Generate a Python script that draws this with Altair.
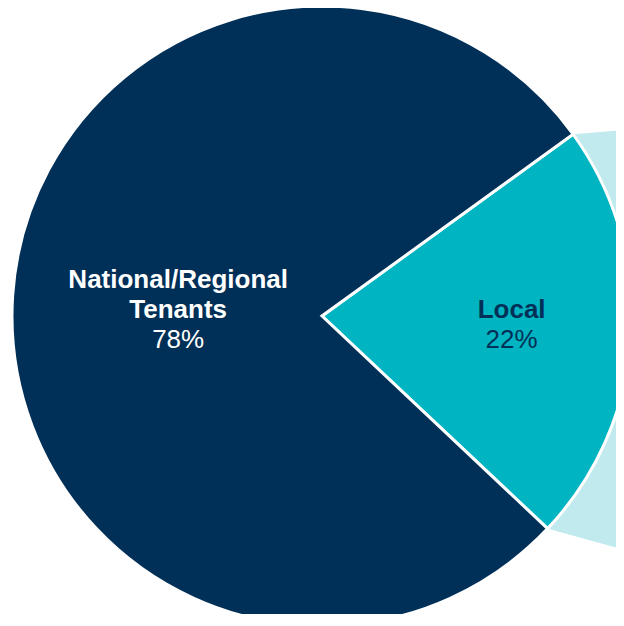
import math
import altair as alt
import pandas as pd

# ---- data ----
categories = ["Local", "National/Regional Tenants"]
shares = [22, 78]
label_names = ["Local", "National/Regional\nTenants"]
label_pcts = ["22%", "78%"]

# ---- layout / style constants ----
W, H = 608, 606
CX, CY, R = 314, 308, 310
START_DEG = 54.1  # where the first slice (Local) starts, clockwise from 12 o'clock
NAVY = "#003057"
TEAL = "#00B4C1"
LIGHT = "#C1EAEE"
FONT = "Liberation Sans"
FONT_SIZE = 26
LINE_H = 30

start = math.radians(START_DEG)
total = sum(shares)

pie_df = pd.DataFrame({
    "category": categories,
    "share": shares,
    "order": list(range(len(categories))),
})

# slice boundary angles (derived from data)
angles = [start]
for s in shares:
    angles.append(angles[-1] + 2 * math.pi * s / total)

def pt(a, r):
    return CX + r * math.sin(a), CY - r * math.cos(a)

# light connector band behind the small slice
(tx, ty) = pt(angles[0], R)
(bx, by) = pt(angles[1], R)
top_slope, bot_slope = -0.082, 0.276
far_x = W + 40
x0 = min(tx, bx) - 5
band_df = pd.DataFrame({
    "x": [x0, far_x],
    "y": [ty + top_slope * (x0 - tx), ty + top_slope * (far_x - tx)],
    "y2": [by + bot_slope * (x0 - bx), by + bot_slope * (far_x - bx)],
})

# label anchors: horizontal position from the slice mid-angle
label_r = [0.613 * R, 0.465 * R]
lab_rows = []
for i, c in enumerate(categories):
    mid = (angles[i] + angles[i + 1]) / 2
    lx = CX + label_r[i] * math.sin(mid)
    n_lines = label_names[i].count("\n") + 1
    lab_rows.append({
        "category": c,
        "x": lx,
        "y_name": CY + 2 - (n_lines - 1) * LINE_H,
        "y_pct": CY + 32,
        "name": label_names[i],
        "pct": label_pcts[i],
    })
lab_df = pd.DataFrame(lab_rows)

xs = alt.Scale(domain=[0, W], range=[0, W])
ys = alt.Scale(domain=[0, H], range=[0, H])

band = alt.Chart(band_df).mark_area(color=LIGHT, clip=True).encode(
    x=alt.X("x:Q", scale=xs, axis=None),
    y=alt.Y("y:Q", scale=ys, axis=None),
    y2="y2:Q",
)

pie = alt.Chart(pie_df).mark_arc(stroke="white", strokeWidth=3, outerRadius=R).encode(
    theta=alt.Theta("share:Q", stack=True,
                    scale=alt.Scale(range=[start, start + 2 * math.pi])),
    order=alt.Order("order:Q"),
    color=alt.Color("category:N", legend=None,
                    scale=alt.Scale(domain=categories, range=[TEAL, NAVY])),
    x=alt.value(CX),
    y=alt.value(CY),
)

text_color = alt.Color("category:N", legend=None,
                       scale=alt.Scale(domain=categories, range=[NAVY, "white"]))

names = alt.Chart(lab_df).mark_text(
    font=FONT, fontSize=FONT_SIZE, fontWeight="bold", baseline="alphabetic",
    lineBreak="\n", lineHeight=LINE_H, align="center",
).encode(
    x=alt.X("x:Q", scale=xs, axis=None),
    y=alt.Y("y_name:Q", scale=ys, axis=None),
    text="name:N",
    color=text_color,
)

pcts = alt.Chart(lab_df).mark_text(
    font=FONT, fontSize=FONT_SIZE, baseline="alphabetic", align="center",
).encode(
    x=alt.X("x:Q", scale=xs, axis=None),
    y=alt.Y("y_pct:Q", scale=ys, axis=None),
    text="pct:N",
    color=text_color,
)

chart = alt.layer(band, pie, names, pcts).resolve_scale(color="independent").properties(
    width=W, height=H, padding=0, autosize=alt.AutoSizeParams(type="none"),
).configure_view(stroke=None)

chart.save("out.html", embed_options={"renderer": "svg", "actions": False})
